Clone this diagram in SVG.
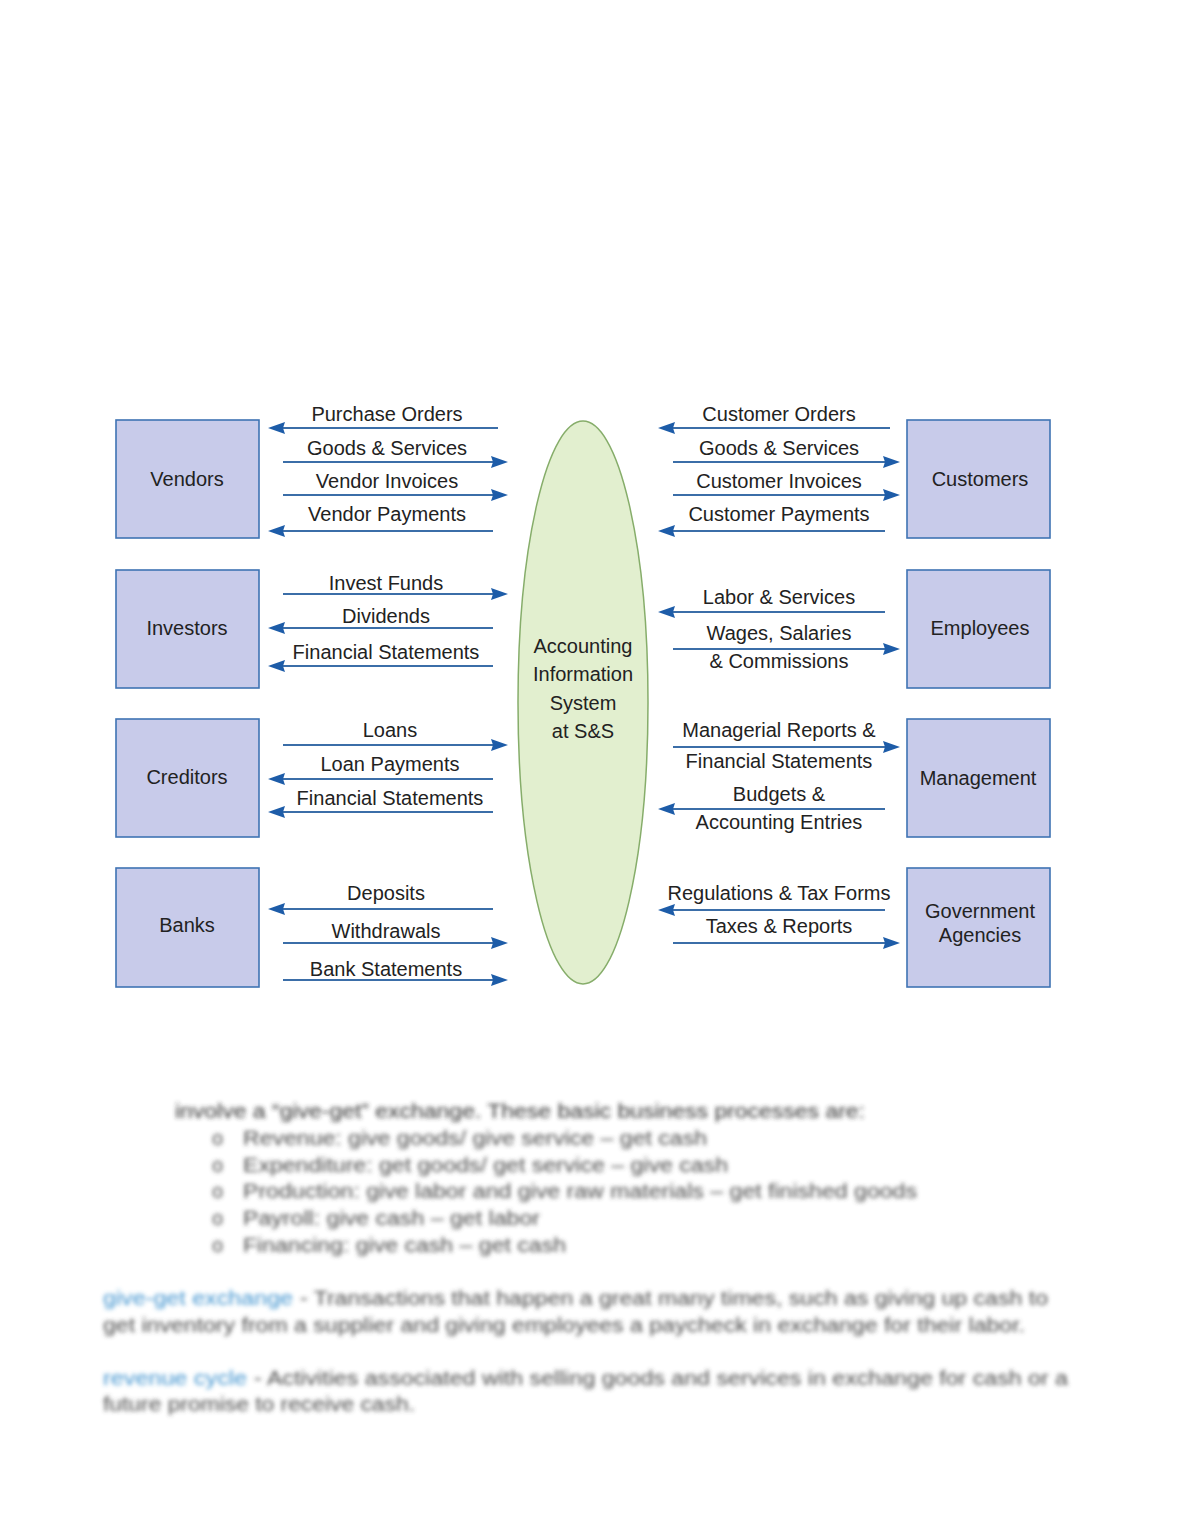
<svg xmlns="http://www.w3.org/2000/svg" width="1180" height="1527" viewBox="0 0 1180 1527">
<style>
.box{fill:#c8cbea;stroke:#3f73b3;stroke-width:1.6}
.lbl{font-family:"Liberation Sans",Arial,sans-serif;font-size:20px;fill:#222;text-anchor:middle}
.fl{stroke:#3b6ea8;stroke-width:2;fill:none;marker-end:url(#ah)}
.bt{font-family:"Liberation Sans",Arial,sans-serif;font-size:20px;fill:#4a4a4a}
.bl{fill:#3f93cf}
</style>
<defs>
<marker id="ah" markerWidth="18" markerHeight="14" refX="14" refY="7" orient="auto" markerUnits="userSpaceOnUse">
<path d="M0,1 L17,7 L0,13 L2,7 Z" fill="#1d5ca8"/>
</marker>
<filter id="blur" x="-5%" y="-20%" width="110%" height="140%"><feGaussianBlur stdDeviation="2.3"/></filter>
</defs>
<rect width="1180" height="1527" fill="#ffffff"/>

<g id="ais">
<ellipse cx="583" cy="702.5" rx="65" ry="281.5" fill="#e2efcf" stroke="#86ad6a" stroke-width="1.5"/>
<text class="lbl" x="583" y="653">Accounting</text>
<text class="lbl" x="583" y="681">Information</text>
<text class="lbl" x="583" y="710">System</text>
<text class="lbl" x="583" y="738">at S&amp;S</text>
</g>

<g id="vendors"><rect class="box" x="116" y="420" width="143" height="118"/><text class="lbl" x="187" y="486">Vendors</text></g>
<g id="investors"><rect class="box" x="116" y="570" width="143" height="118"/><text class="lbl" x="187" y="635">Investors</text></g>
<g id="creditors"><rect class="box" x="116" y="719" width="143" height="118"/><text class="lbl" x="187" y="784">Creditors</text></g>
<g id="banks"><rect class="box" x="116" y="868" width="143" height="119"/><text class="lbl" x="187" y="932">Banks</text></g>
<g id="customers"><rect class="box" x="907" y="420" width="143" height="118"/><text class="lbl" x="980" y="486">Customers</text></g>
<g id="employees"><rect class="box" x="907" y="570" width="143" height="118"/><text class="lbl" x="980" y="635">Employees</text></g>
<g id="management"><rect class="box" x="907" y="719" width="143" height="118"/><text class="lbl" x="978" y="785">Management</text></g>
<g id="government"><rect class="box" x="907" y="868" width="143" height="119"/><text class="lbl" x="980" y="918">Government</text><text class="lbl" x="980" y="942">Agencies</text></g>

<g id="connectors">
<line class="fl" x1="498" y1="428" x2="271" y2="428"/>
<line class="fl" x1="283" y1="462" x2="505" y2="462"/>
<line class="fl" x1="283" y1="495" x2="505" y2="495"/>
<line class="fl" x1="493" y1="531" x2="271" y2="531"/>
<line class="fl" x1="283" y1="594" x2="505" y2="594"/>
<line class="fl" x1="493" y1="628" x2="271" y2="628"/>
<line class="fl" x1="493" y1="666" x2="271" y2="666"/>
<line class="fl" x1="283" y1="745" x2="505" y2="745"/>
<line class="fl" x1="493" y1="779" x2="271" y2="779"/>
<line class="fl" x1="493" y1="812" x2="271" y2="812"/>
<line class="fl" x1="493" y1="909" x2="271" y2="909"/>
<line class="fl" x1="283" y1="943" x2="505" y2="943"/>
<line class="fl" x1="283" y1="980" x2="505" y2="980"/>

<line class="fl" x1="890" y1="428" x2="661" y2="428"/>
<line class="fl" x1="673" y1="462" x2="897" y2="462"/>
<line class="fl" x1="673" y1="495" x2="897" y2="495"/>
<line class="fl" x1="885" y1="531" x2="661" y2="531"/>
<line class="fl" x1="885" y1="612" x2="661" y2="612"/>
<line class="fl" x1="673" y1="649" x2="897" y2="649"/>
<line class="fl" x1="673" y1="747" x2="897" y2="747"/>
<line class="fl" x1="885" y1="809" x2="661" y2="809"/>
<line class="fl" x1="885" y1="910" x2="661" y2="910"/>
<line class="fl" x1="673" y1="943" x2="897" y2="943"/>

<text class="lbl" x="387" y="421">Purchase Orders</text>
<text class="lbl" x="387" y="455">Goods &amp; Services</text>
<text class="lbl" x="387" y="488">Vendor Invoices</text>
<text class="lbl" x="387" y="521">Vendor Payments</text>
<text class="lbl" x="386" y="590">Invest Funds</text>
<text class="lbl" x="386" y="623">Dividends</text>
<text class="lbl" x="386" y="659">Financial Statements</text>
<text class="lbl" x="390" y="737">Loans</text>
<text class="lbl" x="390" y="771">Loan Payments</text>
<text class="lbl" x="390" y="805">Financial Statements</text>
<text class="lbl" x="386" y="900">Deposits</text>
<text class="lbl" x="386" y="938">Withdrawals</text>
<text class="lbl" x="386" y="976">Bank Statements</text>

<text class="lbl" x="779" y="421">Customer Orders</text>
<text class="lbl" x="779" y="455">Goods &amp; Services</text>
<text class="lbl" x="779" y="488">Customer Invoices</text>
<text class="lbl" x="779" y="521">Customer Payments</text>
<text class="lbl" x="779" y="604">Labor &amp; Services</text>
<text class="lbl" x="779" y="640">Wages, Salaries</text>
<text class="lbl" x="779" y="668">&amp; Commissions</text>
<text class="lbl" x="779" y="737">Managerial Reports &amp;</text>
<text class="lbl" x="779" y="768">Financial Statements</text>
<text class="lbl" x="779" y="801">Budgets &amp;</text>
<text class="lbl" x="779" y="829">Accounting Entries</text>
<text class="lbl" x="779" y="900">Regulations &amp; Tax Forms</text>
<text class="lbl" x="779" y="933">Taxes &amp; Reports</text>
</g>

<g id="blurred-notes" filter="url(#blur)">
<text class="bt" x="175" y="1118" textLength="690" lengthAdjust="spacingAndGlyphs" style="fill:#333">involve a “give-get” exchange. These basic business processes are:</text>
<text class="bt" x="212" y="1145">o</text>
<text class="bt" x="243" y="1145" textLength="464" lengthAdjust="spacingAndGlyphs">Revenue: give goods/ give service – get cash</text>
<text class="bt" x="212" y="1172">o</text>
<text class="bt" x="243" y="1172" textLength="485" lengthAdjust="spacingAndGlyphs">Expenditure: get goods/ get service – give cash</text>
<text class="bt" x="212" y="1198">o</text>
<text class="bt" x="243" y="1198" textLength="674" lengthAdjust="spacingAndGlyphs">Production: give labor and give raw materials – get finished goods</text>
<text class="bt" x="212" y="1225">o</text>
<text class="bt" x="243" y="1225" textLength="297" lengthAdjust="spacingAndGlyphs">Payroll: give cash – get labor</text>
<text class="bt" x="212" y="1252">o</text>
<text class="bt" x="243" y="1252" textLength="323" lengthAdjust="spacingAndGlyphs">Financing: give cash – get cash</text>
<text class="bt bl" x="103" y="1305" textLength="190" lengthAdjust="spacingAndGlyphs">give-get exchange</text>
<text class="bt" x="300" y="1305" textLength="748" lengthAdjust="spacingAndGlyphs">- Transactions that happen a great many times, such as giving up cash to</text>
<text class="bt" x="103" y="1332" textLength="922" lengthAdjust="spacingAndGlyphs">get inventory from a supplier and giving employees a paycheck in exchange for their labor.</text>
<text class="bt bl" x="103" y="1385" textLength="144" lengthAdjust="spacingAndGlyphs">revenue cycle</text>
<text class="bt" x="254" y="1385" textLength="814" lengthAdjust="spacingAndGlyphs">- Activities associated with selling goods and services in exchange for cash or a</text>
<text class="bt" x="103" y="1411" textLength="312" lengthAdjust="spacingAndGlyphs">future promise to receive cash.</text>
</g>
</svg>
